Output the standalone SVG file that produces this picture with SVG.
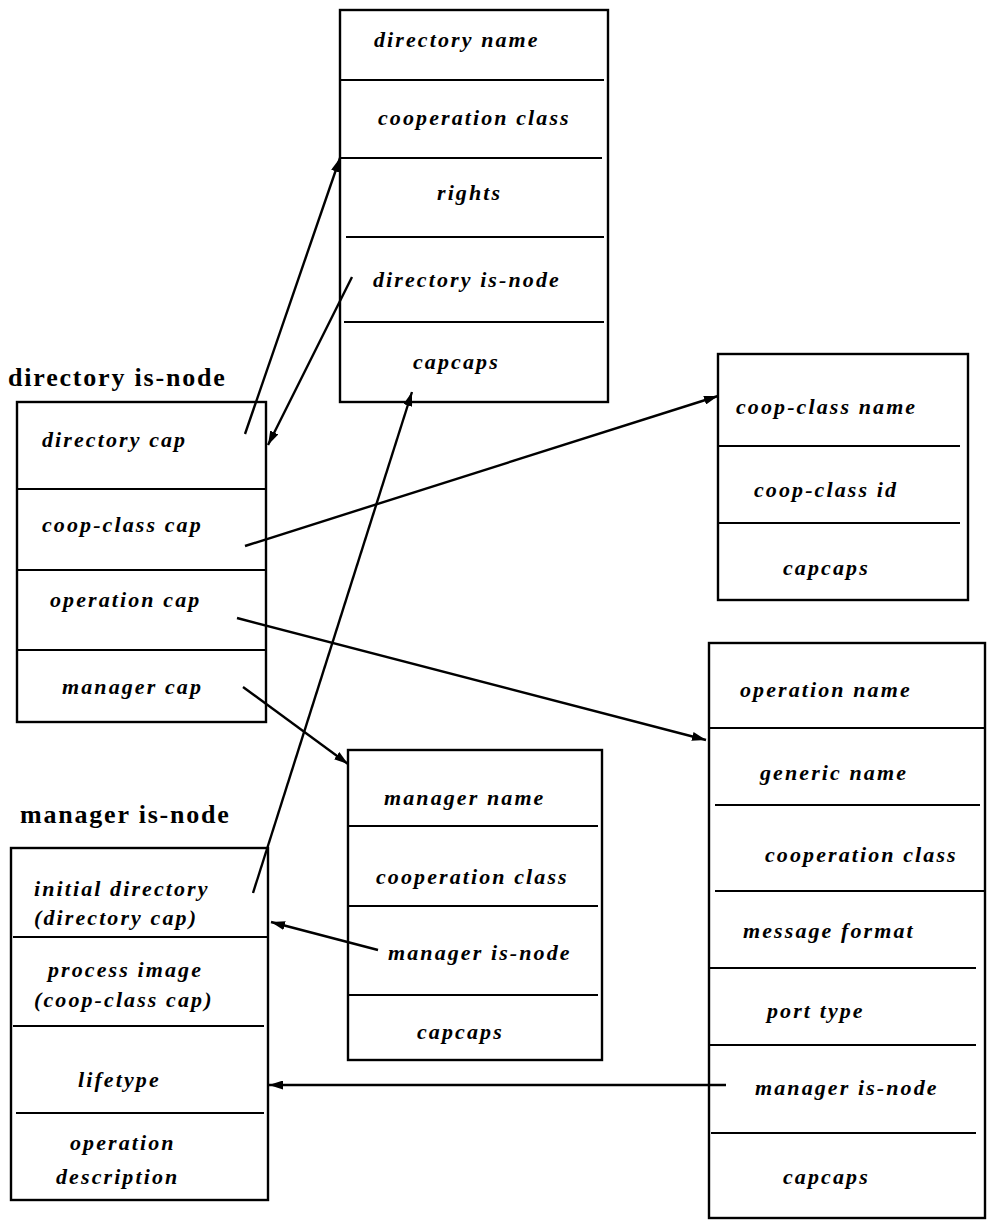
<svg xmlns="http://www.w3.org/2000/svg" width="988" height="1224" viewBox="0 0 988 1224">
<style>
.box{fill:none;stroke:#000;stroke-width:2.4}
.div{stroke:#000;stroke-width:2.2}
.t{font-family:"Liberation Serif",serif;font-style:italic;font-weight:bold;font-size:22px;letter-spacing:2.1px;fill:#000}
.title{font-family:"Liberation Serif",serif;font-weight:bold;font-size:26px;letter-spacing:1.8px;fill:#000}
.c{stroke:#000;stroke-width:2.4;fill:none;marker-end:url(#ah)}
</style>
<defs>
<marker id="ah" viewBox="0 0 14 9" refX="14" refY="4.5" markerWidth="14" markerHeight="9" markerUnits="userSpaceOnUse" orient="auto">
<path d="M0,0 L14,4.5 L0,9 Z" fill="#000"/>
</marker>
</defs>
<rect width="988" height="1224" fill="#fff"/>

<g id="directory-record">
<rect class="box" x="340" y="10" width="268" height="392"/>
<line class="div" x1="340" y1="80" x2="604" y2="80"/>
<line class="div" x1="340" y1="158" x2="602" y2="158"/>
<line class="div" x1="346" y1="237" x2="604" y2="237"/>
<line class="div" x1="344" y1="322" x2="604" y2="322"/>
<text class="t" x="374" y="47">directory name</text>
<text class="t" x="378" y="125">cooperation class</text>
<text class="t" x="437" y="200">rights</text>
<text class="t" x="373" y="287">directory is-node</text>
<text class="t" x="413" y="369">capcaps</text>
</g>

<g id="directory-is-node">
<text class="title" x="8" y="386">directory is-node</text>
<rect class="box" x="17" y="402" width="249" height="320"/>
<line class="div" x1="17" y1="489" x2="266" y2="489"/>
<line class="div" x1="17" y1="570" x2="266" y2="570"/>
<line class="div" x1="17" y1="650" x2="266" y2="650"/>
<text class="t" x="42" y="447">directory cap</text>
<text class="t" x="42" y="532">coop-class cap</text>
<text class="t" x="50" y="607">operation cap</text>
<text class="t" x="62" y="694">manager cap</text>
</g>

<g id="coop-class-record">
<rect class="box" x="718" y="354" width="250" height="246"/>
<line class="div" x1="718" y1="446" x2="960" y2="446"/>
<line class="div" x1="718" y1="523" x2="960" y2="523"/>
<text class="t" x="736" y="414">coop-class name</text>
<text class="t" x="754" y="497">coop-class id</text>
<text class="t" x="783" y="575">capcaps</text>
</g>

<g id="operation-record">
<rect class="box" x="709" y="643" width="276" height="575"/>
<line class="div" x1="709" y1="728" x2="985" y2="728"/>
<line class="div" x1="715" y1="805" x2="980" y2="805"/>
<line class="div" x1="715" y1="891" x2="985" y2="891"/>
<line class="div" x1="709" y1="968" x2="976" y2="968"/>
<line class="div" x1="709" y1="1045" x2="976" y2="1045"/>
<line class="div" x1="711" y1="1133" x2="976" y2="1133"/>
<text class="t" x="740" y="697">operation name</text>
<text class="t" x="760" y="780">generic name</text>
<text class="t" x="765" y="862">cooperation class</text>
<text class="t" x="743" y="938">message format</text>
<text class="t" x="767" y="1018">port type</text>
<text class="t" x="755" y="1095">manager is-node</text>
<text class="t" x="783" y="1184">capcaps</text>
</g>

<g id="manager-record">
<rect class="box" x="348" y="750" width="254" height="310"/>
<line class="div" x1="348" y1="826" x2="598" y2="826"/>
<line class="div" x1="348" y1="906" x2="598" y2="906"/>
<line class="div" x1="348" y1="995" x2="598" y2="995"/>
<text class="t" x="384" y="805">manager name</text>
<text class="t" x="376" y="884">cooperation class</text>
<text class="t" x="388" y="960">manager is-node</text>
<text class="t" x="417" y="1039">capcaps</text>
</g>

<g id="manager-is-node">
<text class="title" x="20" y="823">manager is-node</text>
<rect class="box" x="11" y="848" width="257" height="352"/>
<line class="div" x1="13" y1="937" x2="268" y2="937"/>
<line class="div" x1="13" y1="1026" x2="264" y2="1026"/>
<line class="div" x1="16" y1="1113" x2="264" y2="1113"/>
<text class="t" x="34" y="896">initial directory</text>
<text class="t" x="34" y="925">(directory cap)</text>
<text class="t" x="48" y="977">process image</text>
<text class="t" x="34" y="1007">(coop-class cap)</text>
<text class="t" x="78" y="1087">lifetype</text>
<text class="t" x="70" y="1150">operation</text>
<text class="t" x="56" y="1184">description</text>
</g>

<g id="connectors">
<line class="c" x1="245" y1="434" x2="340" y2="158"/>
<line class="c" x1="352" y1="277" x2="268" y2="445"/>
<line class="c" x1="245" y1="546" x2="718" y2="396"/>
<line class="c" x1="237" y1="618" x2="706" y2="740"/>
<line class="c" x1="243" y1="687" x2="348" y2="764"/>
<line class="c" x1="253" y1="893" x2="412" y2="392"/>
<line class="c" x1="378" y1="950" x2="271" y2="922"/>
<line class="c" x1="726" y1="1085" x2="269" y2="1085"/>
</g>
</svg>
